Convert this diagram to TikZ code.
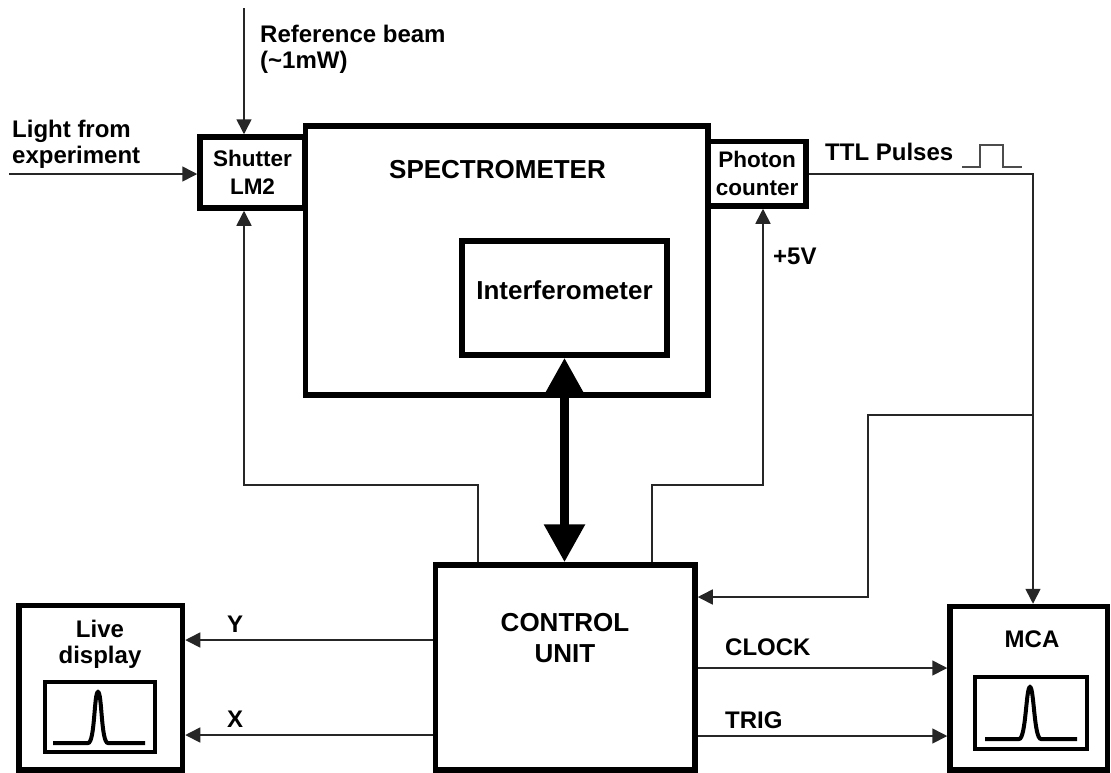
\documentclass[tikz,border=0pt]{standalone}
\usepackage{fontspec}
\setmainfont{Liberation Sans}
\usetikzlibrary{arrows.meta,calc}

\newcommand{\lblfont}{\fontsize{24}{26}\selectfont\bfseries}
\newcommand{\boxfont}{\fontsize{22.5}{28}\selectfont\bfseries}
\newcommand{\bigfont}{\fontsize{26}{31}\selectfont\bfseries}

\tikzset{
  blk/.style={draw, line width=5.5pt, inner sep=0pt, align=center, font=\boxfont},
  screen/.style={draw, line width=3.5pt, inner sep=0pt},
  conn/.style={draw=black!85, line width=1.6pt, -{Triangle[length=15pt,width=15pt]}},
  wire/.style={draw=black!70, line width=1.6pt},
  lbl/.style={inner sep=0pt, align=left, font=\lblfont},
  title/.style={inner sep=0pt, align=center, font=\bigfont},
}

\begin{document}
\begin{tikzpicture}[x=1pt, y=-1pt]
  \useasboundingbox (0,0) rectangle (1111,772);
  % Blocks
  \node[blk, minimum width=402.5pt, minimum height=269pt] (spec) at (506.75,260.5) {};
  \node[blk, minimum width=105pt, minimum height=71pt] (shutter) at (252.5,172.5) {Shutter\\LM2};
  \node[blk, minimum width=98pt, minimum height=64.5pt] (photon) at (757,173.75) {Photon\\counter};
  \node[blk, minimum width=205pt, minimum height=114pt] (interf) at (564.5,298) {};
  \node[blk, minimum width=259.5pt, minimum height=205pt] (ctrl) at (565.25,667.5) {};
  \node[blk, minimum width=163.5pt, minimum height=164.5pt] (live) at (100.75,687.9) {};
  \node[blk, minimum width=157.5pt, minimum height=163.5pt] (mca) at (1028.75,688.25) {};
  \node[screen, minimum width=110pt, minimum height=70pt] (liveScr) at (100,717) {};
  \node[screen, minimum width=112pt, minimum height=72pt] (mcaScr) at (1031,713) {};
  % Titles (base = last line)
  \node[title, anchor=base] (specLbl) at (497.5,178) {SPECTROMETER};
  \node[title, anchor=base] (interfLbl) at (564.5,299) {Interferometer};
  \node[title, anchor=base] (ctrlLbl) at (565,662) {CONTROL\\UNIT};
  \node[lbl, align=center, anchor=base] (liveLbl) at (100,663) {Live\\display};
  \node[lbl, anchor=base] (mcaLbl) at (1032,647) {MCA};
  % Signal labels
  \node[lbl, anchor=base west] (lightLbl) at (12,163) {Light from\\experiment};
  \node[lbl, anchor=base west] (refLbl) at (260,68) {Reference beam\\(\textasciitilde 1mW)};
  \node[lbl, anchor=base west] (ttlLbl) at (825,160) {TTL Pulses};
  \node[lbl, anchor=base west] (vccLbl) at (773,264) {+5V};
  \node[lbl, anchor=base west] (yLbl) at (227,632) {Y};
  \node[lbl, anchor=base west] (xLbl) at (227,727) {X};
  \node[lbl, anchor=base west] (clkLbl) at (725,655) {CLOCK};
  \node[lbl, anchor=base west] (trigLbl) at (725,728) {TRIG};
  % Beams in
  \coordinate (refTop) at (244,8);
  \coordinate (lightIn) at (9,174);
  \draw[conn] (refTop) -- (refTop |- shutter.north);
  \draw[conn] (lightIn) -- (lightIn -| shutter.west);
  % Control lines up to shutter and counter
  \coordinate (shutTurn) at (244,485);
  \coordinate (pcTurn) at (763,485);
  \draw[conn] ([xshift=-87pt]ctrl.north) |- (shutTurn) -- (shutTurn |- shutter.south);
  \draw[conn] ([xshift=87pt]ctrl.north) |- (pcTurn) -- (pcTurn |- photon.south);
  \draw[line width=9pt, {Triangle[length=38pt,width=39pt]}-{Triangle[length=38pt,width=39pt]}] (interf.south) -- (interf.south |- ctrl.north);
  % TTL pulses to MCA and back to control
  \coordinate (ttlDrop) at (1033,174);
  \coordinate (split) at (1033,415);
  \coordinate (fbTurn) at (868,415);
  \coordinate (fbIn) at (868,597);
  \draw[conn] (photon.east) -- (photon.east -| ttlDrop) -- (ttlDrop |- mca.north);
  \draw[conn] (split) -- (fbTurn) -- (fbIn) -- (fbIn -| ctrl.east);
  \draw[wire] (962,167) -- (980,167) -- (980,145) -- (1003,145) -- (1003,167) -- (1022,167);
  % Outputs
  \coordinate (yRow) at (0,640);
  \coordinate (xRow) at (0,735);
  \coordinate (clkRow) at (0,668);
  \coordinate (trigRow) at (0,736);
  \draw[conn] (yRow -| ctrl.west) -- (yRow -| live.east);
  \draw[conn] (xRow -| ctrl.west) -- (xRow -| live.east);
  \draw[conn] (clkRow -| ctrl.east) -- (clkRow -| mca.west);
  \draw[conn] (trigRow -| ctrl.east) -- (trigRow -| mca.west);
  % Peaks on the screens
  \draw[line width=4pt] (53,743) -- (88,743) .. controls (95,743) and (94,692) .. (98,692) .. controls (102,692) and (101,743) .. (108,743) -- (145,743);
  \draw[line width=4pt] (985,739) -- (1019,739) .. controls (1026,739) and (1026,687) .. (1030,687) .. controls (1034,687) and (1034,739) .. (1041,739) -- (1077,739);
\end{tikzpicture}
\end{document}
